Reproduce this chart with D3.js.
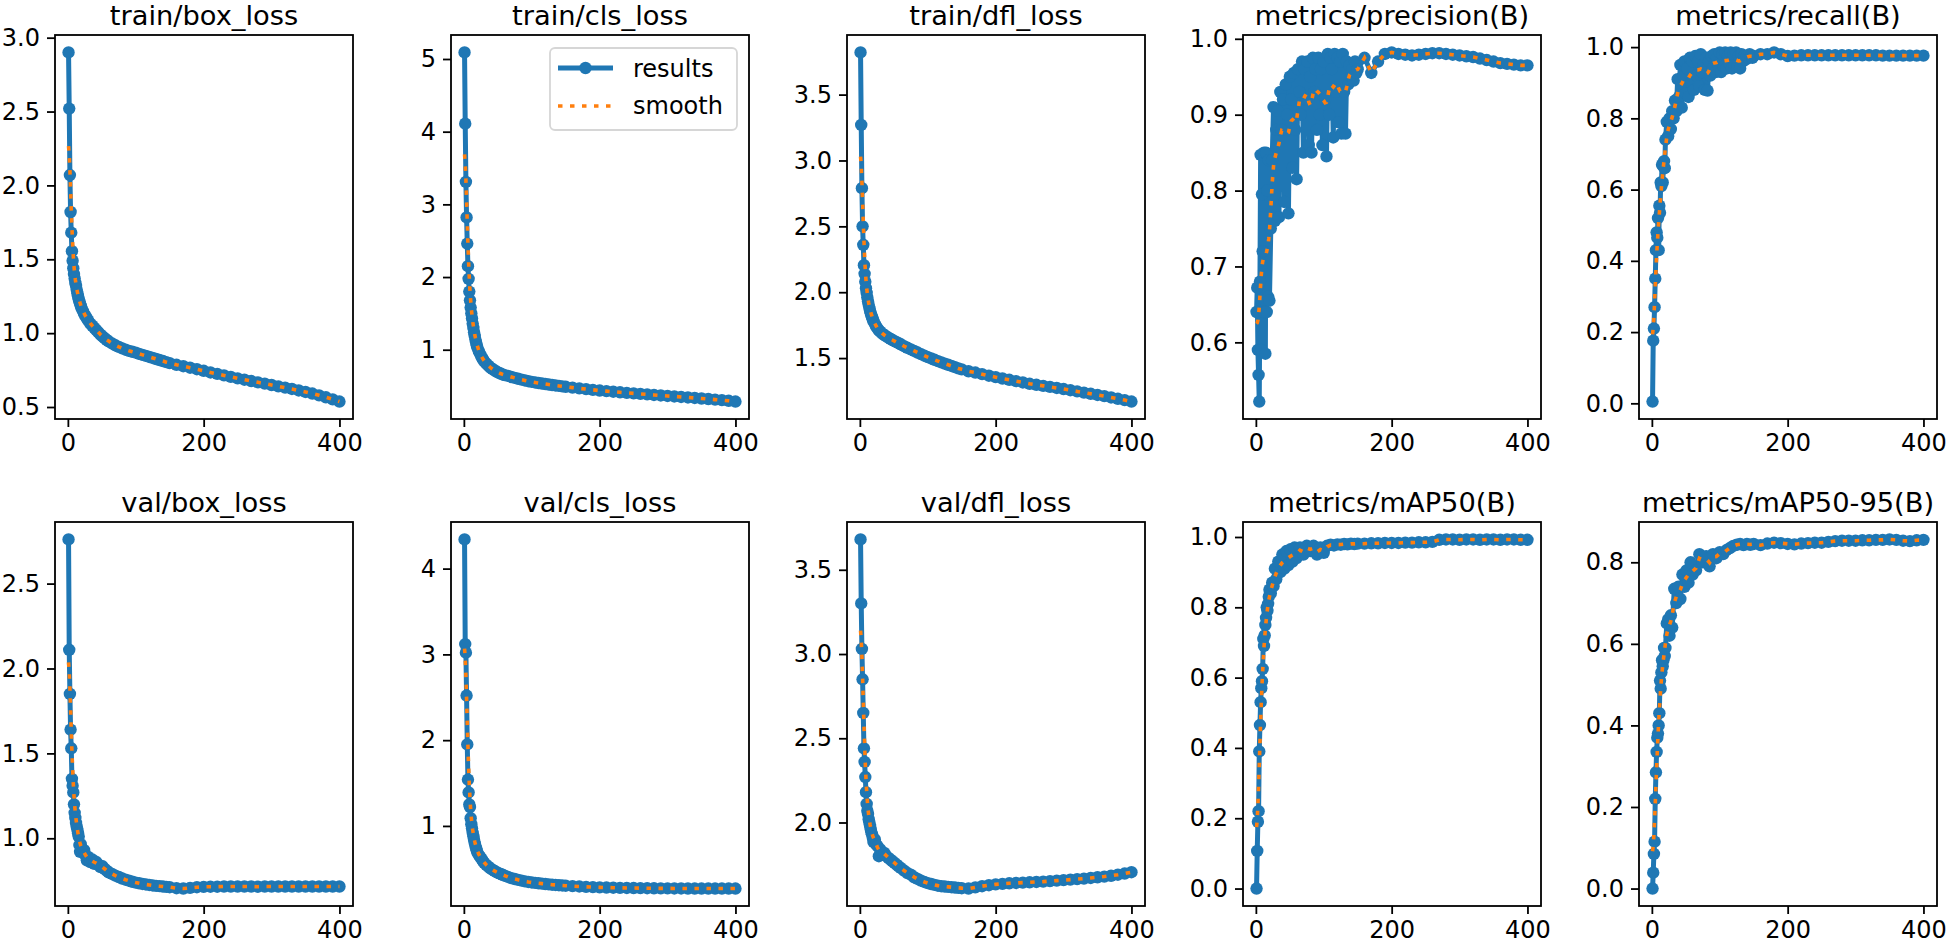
<!DOCTYPE html>
<html>
<head>
<meta charset="utf-8">
<script src="https://cdn.jsdelivr.net/npm/d3@7"></script>
<style>
  body { margin: 0; background: #fff; }
  svg { display: block; font-family: "DejaVu Sans", sans-serif; }
</style>
</head>
<body>
<div class="results-chart"></div>
<script>
// epochs (dense early, sparser later)
const epochs = [1,2,3,4,5,6,7,8,9,10,11,12,13,14,15,16,17,18,19,20,
    22,24,26,28,30,
    33,36,39,42,45,48,51,54,57,60,
    65,70,75,80,85,90,95,100,105,110,115,120,125,130,135,140,145,150,
    160,170,180,190,200,210,220,230,240,250,260,270,280,290,300,310,320,330,340,350,360,370,380,390,400];

// precision / recall are noisy, so they are read at more epochs
const denseEpochs = [1,2,3,4,5,6,7,8,9,10,11,12,13,14,15,16,17,18,19,20,
    22,24,26,28,30,32,34,36,38,40,42,44,46,48,50,52,54,56,58,60,
    62,64,66,68,70,72,74,76,78,80,82,84,86,88,90,92,94,96,98,100,
    102,104,106,108,110,112,114,116,118,120,122,124,126,128,130,132,134,136,138,140,
    142,144,146,148,150,
    160,170,180,190,200,210,220,230,240,250,260,270,280,290,300,310,320,330,340,350,360,370,380,390,400];

const trainBoxLoss = [2.90,2.52,2.07,1.82,1.68,1.555,1.49,1.44,1.40,1.37,1.34,1.32,1.295,1.27,1.25,1.23,1.215,1.20,1.185,1.17,
    1.15,1.13,1.115,1.10,1.085,
    1.065,1.05,1.035,1.02,1.005,0.99,0.978,0.966,0.955,0.945,
    0.93,0.918,0.907,0.897,0.888,0.88,0.874,0.868,0.86,0.853,0.846,0.839,0.832,0.825,0.818,0.811,0.804,0.797,
    0.786,0.776,0.766,0.756,0.745,0.734,0.724,0.714,0.704,0.694,0.685,0.676,0.667,0.658,0.649,0.640,0.631,0.622,0.612,0.602,0.591,0.579,0.566,0.552,0.537];

const trainClsLoss = [5.09,4.11,3.31,2.82,2.46,2.15,1.975,1.80,1.68,1.58,1.50,1.43,1.36,1.30,1.24,1.19,1.14,1.10,1.06,1.03,
    0.98,0.94,0.90,0.87,0.84,
    0.81,0.78,0.755,0.735,0.715,0.70,0.685,0.672,0.66,0.65,
    0.64,0.625,0.612,0.60,0.588,0.577,0.567,0.558,0.55,0.542,0.535,0.528,0.521,0.514,0.508,0.502,0.496,0.49,
    0.479,0.468,0.458,0.448,0.438,0.43,0.422,0.414,0.406,0.399,0.392,0.385,0.378,0.371,0.364,0.357,0.35,0.343,0.336,0.329,0.322,0.314,0.306,0.297,0.287];

const trainDflLoss = [3.82,3.27,2.79,2.50,2.36,2.205,2.14,2.08,2.03,1.995,1.96,1.93,1.905,1.88,1.86,1.84,1.825,1.81,1.795,1.78,
    1.76,1.74,1.725,1.71,1.70,
    1.685,1.675,1.665,1.655,1.645,1.637,1.629,1.621,1.613,1.605,
    1.59,1.578,1.566,1.554,1.542,1.53,1.518,1.507,1.497,1.487,1.477,1.467,1.458,1.449,1.44,1.431,1.422,1.414,
    1.40,1.39,1.378,1.366,1.355,1.345,1.335,1.325,1.315,1.305,1.297,1.289,1.281,1.273,1.265,1.256,1.247,1.238,1.229,1.22,1.211,1.201,1.191,1.181,1.17];

const precision = [0.64,0.672,0.59,0.557,0.522,0.68,0.847,0.59,0.795,0.72,0.64,0.85,0.64,0.585,0.85,0.64,0.80,0.66,0.84,0.655,
    0.75,0.84,0.91,0.76,0.88,0.905,0.765,0.93,0.88,0.92,
    0.785,0.94,0.90,0.77,0.95,0.92,0.83,0.955,0.88,0.815,
    0.96,0.93,0.90,0.97,0.85,0.96,0.92,0.97,0.86,0.95,
    0.85,0.975,0.93,0.96,0.88,0.975,0.90,0.96,0.86,0.97,
    0.92,0.845,0.98,0.90,0.975,0.96,0.87,0.98,0.93,0.975,
    0.89,0.97,0.875,0.98,0.93,0.875,0.97,0.94,0.965,0.95,
    0.96,0.945,0.97,0.955,0.96,
    0.975,0.955,0.97,0.98,0.982,0.98,0.979,0.978,0.979,0.98,0.981,0.981,0.98,0.979,0.978,0.977,0.976,0.974,0.972,0.97,0.968,0.967,0.966,0.965,0.965];

const recall = [0.005,0.176,0.21,0.27,0.35,0.43,0.48,0.465,0.52,0.43,0.555,0.535,0.62,0.61,0.67,0.62,0.665,0.68,0.66,0.74,
    0.79,0.75,0.80,0.77,0.82,0.80,0.85,0.82,0.91,0.86,
    0.95,0.83,0.92,0.96,0.87,0.94,0.86,0.97,0.90,0.96,
    0.88,0.975,0.92,0.96,0.89,0.98,0.93,0.95,0.88,0.97,
    0.878,0.96,0.92,0.975,0.94,0.98,0.93,0.97,0.95,0.985,
    0.93,0.98,0.945,0.985,0.94,0.975,0.955,0.985,0.94,0.98,
    0.95,0.985,0.945,0.975,0.94,0.98,0.96,0.975,0.965,0.975,
    0.97,0.98,0.975,0.97,0.975,
    0.98,0.98,0.985,0.98,0.975,0.976,0.977,0.977,0.977,0.977,0.977,0.977,0.977,0.977,0.977,0.977,0.977,0.977,0.976,0.976,0.976,0.976,0.976,0.976,0.976];

const valBoxLoss = [2.76,2.11,1.85,1.64,1.53,1.35,1.31,1.27,1.20,1.15,1.12,1.09,1.07,1.05,1.03,1.01,0.96,0.92,0.965,0.94,
    0.92,0.93,0.90,0.87,0.89,
    0.86,0.875,0.85,0.86,0.845,0.83,0.835,0.82,0.81,0.80,
    0.79,0.78,0.772,0.763,0.756,0.75,0.744,0.739,0.735,0.731,0.728,0.725,0.722,0.72,0.718,0.716,0.714,0.712,
    0.706,0.704,0.708,0.712,0.714,0.715,0.715,0.716,0.716,0.716,0.716,0.716,0.715,0.716,0.716,0.716,0.716,0.716,0.716,0.716,0.716,0.716,0.716,0.716,0.716];

const valClsLoss = [4.34,3.12,3.02,2.52,1.95,1.54,1.39,1.25,1.22,1.09,1.02,0.97,0.92,0.88,0.84,0.80,0.77,0.74,0.715,0.69,
    0.66,0.64,0.615,0.59,0.57,
    0.545,0.525,0.505,0.49,0.475,0.462,0.45,0.44,0.43,0.42,
    0.405,0.392,0.381,0.371,0.362,0.354,0.347,0.341,0.336,0.331,0.327,0.323,0.319,0.315,0.312,0.309,0.306,0.303,
    0.298,0.294,0.29,0.287,0.284,0.282,0.28,0.278,0.277,0.276,0.275,0.274,0.273,0.272,0.272,0.271,0.271,0.27,0.27,0.27,0.27,0.27,0.27,0.27,0.27];

const valDflLoss = [3.68,3.30,3.03,2.85,2.65,2.44,2.36,2.27,2.18,2.11,2.07,2.05,2.02,2.00,1.98,1.96,1.94,1.93,1.91,1.885,
    1.90,1.87,1.86,1.80,1.84,
    1.82,1.82,1.80,1.79,1.78,1.77,1.76,1.75,1.74,1.73,
    1.715,1.70,1.69,1.675,1.665,1.655,1.647,1.64,1.635,1.63,1.625,1.622,1.62,1.618,1.616,1.614,1.612,1.61,
    1.608,1.615,1.622,1.628,1.633,1.636,1.639,1.641,1.643,1.645,1.647,1.649,1.652,1.655,1.658,1.661,1.664,1.667,1.671,1.675,1.679,1.684,1.69,1.697,1.705];

const mAP50 = [0.0,0.107,0.19,0.22,0.39,0.465,0.53,0.57,0.59,0.625,0.71,0.69,0.72,0.75,0.77,0.80,0.79,0.81,0.83,0.85,
    0.84,0.87,0.86,0.91,0.88,
    0.93,0.90,0.95,0.91,0.96,0.92,0.965,0.93,0.97,0.94,
    0.97,0.95,0.975,0.96,0.975,0.95,0.97,0.955,0.975,0.978,0.976,0.979,0.978,0.98,0.979,0.981,0.98,0.981,
    0.981,0.982,0.982,0.983,0.983,0.983,0.984,0.984,0.985,0.985,0.986,0.992,0.993,0.993,0.992,0.993,0.993,0.992,0.993,0.993,0.992,0.993,0.993,0.992,0.992];

const mAP5095 = [0.0,0.039,0.085,0.115,0.22,0.285,0.335,0.37,0.38,0.40,0.43,0.51,0.49,0.53,0.56,0.545,0.56,0.59,0.57,0.59,
    0.65,0.66,0.62,0.67,0.64,
    0.735,0.70,0.74,0.71,0.77,0.74,0.78,0.75,0.80,0.77,
    0.78,0.82,0.80,0.815,0.79,0.82,0.81,0.825,0.82,0.83,0.835,0.84,0.843,0.845,0.842,0.845,0.843,0.845,
    0.842,0.846,0.848,0.847,0.845,0.844,0.846,0.847,0.848,0.848,0.85,0.852,0.853,0.853,0.853,0.854,0.854,0.855,0.855,0.856,0.855,0.853,0.852,0.854,0.855];

// subplot titles, in grid order
const titles = ['train/box_loss', 'train/cls_loss', 'train/dfl_loss', 'metrics/precision(B)', 'metrics/recall(B)',
    'val/box_loss', 'val/cls_loss', 'val/dfl_loss', 'metrics/mAP50(B)', 'metrics/mAP50-95(B)'];

// tick labels
const xTicks = [0, 200, 400];
const yTicks = [
    [0.5, 1.0, 1.5, 2.0, 2.5, 3.0],
    [1, 2, 3, 4, 5],
    [1.5, 2.0, 2.5, 3.0, 3.5],
    [0.6, 0.7, 0.8, 0.9, 1.0],
    [0.0, 0.2, 0.4, 0.6, 0.8, 1.0],
    [1.0, 1.5, 2.0, 2.5],
    [1, 2, 3, 4],
    [2.0, 2.5, 3.0, 3.5],
    [0.0, 0.2, 0.4, 0.6, 0.8, 1.0],
    [0.0, 0.2, 0.4, 0.6, 0.8]
];

const series = [trainBoxLoss, trainClsLoss, trainDflLoss, precision, recall,
    valBoxLoss, valClsLoss, valDflLoss, mAP50, mAP5095];
const seriesEpochs = [epochs, epochs, epochs, denseEpochs, denseEpochs,
    epochs, epochs, epochs, epochs, epochs];

const blue = '#1f77b4';
const orange = '#ff7f0e';

//gaussian smoothing (sigma in epochs) with reflected edges, like the original plot
function smooth(xs, ys, sigma) {
    const n = xs.length;
    const pts = [];
    xs.forEach((x, j) => {
        const w = j === 0 ? xs[1] - xs[0] : j === n - 1 ? xs[n - 1] - xs[n - 2] : (xs[j + 1] - xs[j - 1]) / 2;
        pts.push({x: x, y: ys[j], w: w});
        if (x - xs[0] < 5 * sigma) pts.push({x: 2 * xs[0] - 1 - x, y: ys[j], w: w});
        if (xs[n - 1] - x < 5 * sigma) pts.push({x: 2 * xs[n - 1] + 1 - x, y: ys[j], w: w});
    });
    return xs.map(x => {
        let s = 0, ws = 0;
        pts.forEach(p => {
            const k = p.w * Math.exp(-((p.x - x) ** 2) / (2 * sigma * sigma));
            s += k * p.y;
            ws += k;
        });
        return s / ws;
    });
}

const width = 1949;
const height = 943;
const svg = d3.select('.results-chart')
    .append('svg')
    .attr('width', width)
    .attr('height', height);

svg.append('rect').attr('width', width).attr('height', height).attr('fill', '#fff');

const colLeft = [55, 451, 847, 1243, 1639];
const rowTop = [35, 522];
const panelW = 298;
const panelH = 384;
const lineW = 5;
const dotR = 6.2;

series.forEach((ys, i) => {
    const xs = seriesEpochs[i];
    const left = colLeft[i % 5];
    const top = rowTop[Math.floor(i / 5)];
    const sm = smooth(xs, ys, 3);

    //matplotlib style 5% margins
    const xExt = d3.extent(xs);
    const xPad = (xExt[1] - xExt[0]) * 0.05;
    const yExt = d3.extent(ys.concat(sm));
    const yPad = (yExt[1] - yExt[0]) * 0.05;

    const x = d3.scaleLinear().domain([xExt[0] - xPad, xExt[1] + xPad]).range([0, panelW]);
    const y = d3.scaleLinear().domain([yExt[0] - yPad, yExt[1] + yPad]).range([panelH, 0]);

    const g = svg.append('g').attr('transform', `translate(${left},${top})`);

    const ticks = yTicks[i];
    const fmt = ticks.every(t => Number.isInteger(t)) && ticks[1] - ticks[0] === 1 ? d3.format('d') : d3.format('.1f');

    const yAxis = g.append('g')
        .call(d3.axisLeft(y).tickValues(ticks).tickFormat(fmt).tickSize(8).tickPadding(7));
    const xAxis = g.append('g')
        .attr('transform', `translate(0,${panelH})`)
        .call(d3.axisBottom(x).tickValues(xTicks).tickFormat(d3.format('d')).tickSize(8).tickPadding(7));

    [yAxis, xAxis].forEach(a => {
        a.select('.domain').remove();
        a.selectAll('line').attr('stroke', '#000').attr('stroke-width', 1.8);
        a.selectAll('text')
            .attr('fill', '#000')
            .attr('font-size', 24)
            .attr('font-family', '"DejaVu Sans", sans-serif');
    });

    const pts = xs.map((e, k) => [e, ys[k]]);
    const line = d3.line().x(d => x(d[0])).y(d => y(d[1]));

    g.append('path')
        .attr('d', line(pts))
        .attr('fill', 'none')
        .attr('stroke', blue)
        .attr('stroke-width', lineW)
        .attr('stroke-linejoin', 'round');

    g.selectAll('circle')
        .data(pts)
        .enter()
        .append('circle')
        .attr('cx', d => x(d[0]))
        .attr('cy', d => y(d[1]))
        .attr('r', dotR)
        .attr('fill', blue);

    g.append('path')
        .attr('d', line(xs.map((e, k) => [e, sm[k]])))
        .attr('fill', 'none')
        .attr('stroke', orange)
        .attr('stroke-width', 3.6)
        .attr('stroke-dasharray', '4.5,7.5');

    //axes frame
    g.append('rect')
        .attr('width', panelW)
        .attr('height', panelH)
        .attr('fill', 'none')
        .attr('stroke', '#000')
        .attr('stroke-width', 1.8);

    //title, stretched a touch wider like the reference
    g.append('text')
        .text(titles[i])
        .attr('transform', `translate(${panelW / 2},-10.5) scale(1.05,1)`)
        .attr('text-anchor', 'middle')
        .attr('font-size', 26)
        .attr('fill', '#000');

    //legend sits in the second panel only
    if (i === 1) {
        const lg = g.append('g').attr('transform', 'translate(99,13)');
        lg.append('rect')
            .attr('width', 187)
            .attr('height', 82)
            .attr('rx', 5)
            .attr('fill', '#fff')
            .attr('fill-opacity', 0.8)
            .attr('stroke', '#d6d6d6')
            .attr('stroke-width', 1.8);
        lg.append('line')
            .attr('x1', 8).attr('x2', 63).attr('y1', 20).attr('y2', 20)
            .attr('stroke', blue).attr('stroke-width', lineW);
        lg.append('circle').attr('cx', 35.5).attr('cy', 20).attr('r', dotR).attr('fill', blue);
        lg.append('line')
            .attr('x1', 8).attr('x2', 63).attr('y1', 58).attr('y2', 58)
            .attr('stroke', orange).attr('stroke-width', 3.6).attr('stroke-dasharray', '4.5,7.5');
        lg.append('text').text('results').attr('x', 83).attr('y', 29).attr('font-size', 24).attr('fill', '#000');
        lg.append('text').text('smooth').attr('x', 83).attr('y', 66).attr('font-size', 24).attr('fill', '#000');
    }
});
</script>
</body>
</html>
